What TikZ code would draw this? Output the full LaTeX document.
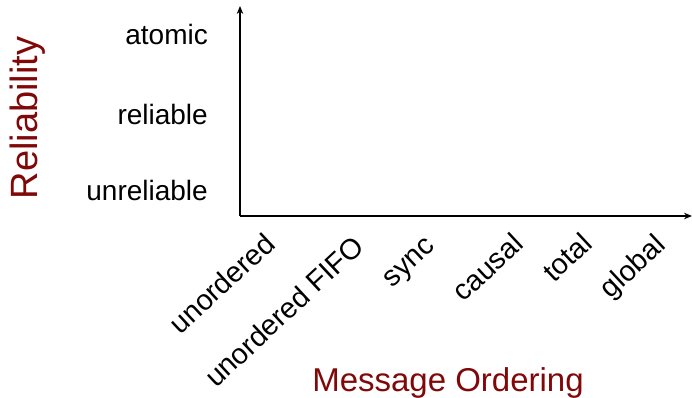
\documentclass[tikz,border=0pt]{standalone}
\usepackage{fontspec}
\setmainfont{Liberation Sans}
\usetikzlibrary{arrows.meta}
\definecolor{axistitle}{RGB}{128,8,8}
\begin{document}
\begin{tikzpicture}[x=1pt,y=-1pt,
  axisline/.style={line width=1.6pt,-{Stealth[length=8pt,width=6.5pt]}},
  levellabel/.style={anchor=base east,inner sep=0pt,font=\fontsize{28}{32}\selectfont},
  orderlabel/.style={anchor=base east,inner sep=0pt,rotate=43,font=\fontsize{28.8}{33}\selectfont},
  axistitlestyle/.style={anchor=base,inner sep=0pt,text=axistitle}]
  \useasboundingbox (0,0) rectangle (692,398);
  % axes
  \coordinate (origin) at (240,216);
  \coordinate (ytop) at (240,6);
  \coordinate (xend) at (692,216);
  \draw[axisline] (origin) -- (ytop);
  \draw[axisline] (origin) -- (xend);
  % reliability levels
  \node[levellabel] (atomic) at (208,45) {atomic};
  \node[levellabel] (reliable) at (208,125) {reliable};
  \node[levellabel] (unreliable) at (208,200) {unreliable};
  \node[axistitlestyle,rotate=90,font=\fontsize{38}{42}\selectfont] (reltitle) at (37,118) {Reliability};
  % ordering levels
  \node[orderlabel] (unordered) at (277,246) {unordered};
  \node[orderlabel] (fifo) at (366,249) {unordered FIFO};
  \node[orderlabel] (sync) at (436,248) {sync};
  \node[orderlabel] (causal) at (525,246) {causal};
  \node[orderlabel] (total) at (594,246) {total};
  \node[orderlabel] (global) at (667,247) {global};
  \node[axistitlestyle,font=\fontsize{33}{38}\selectfont] (ordtitle) at (448,391) {Message Ordering};
\end{tikzpicture}
\end{document}
